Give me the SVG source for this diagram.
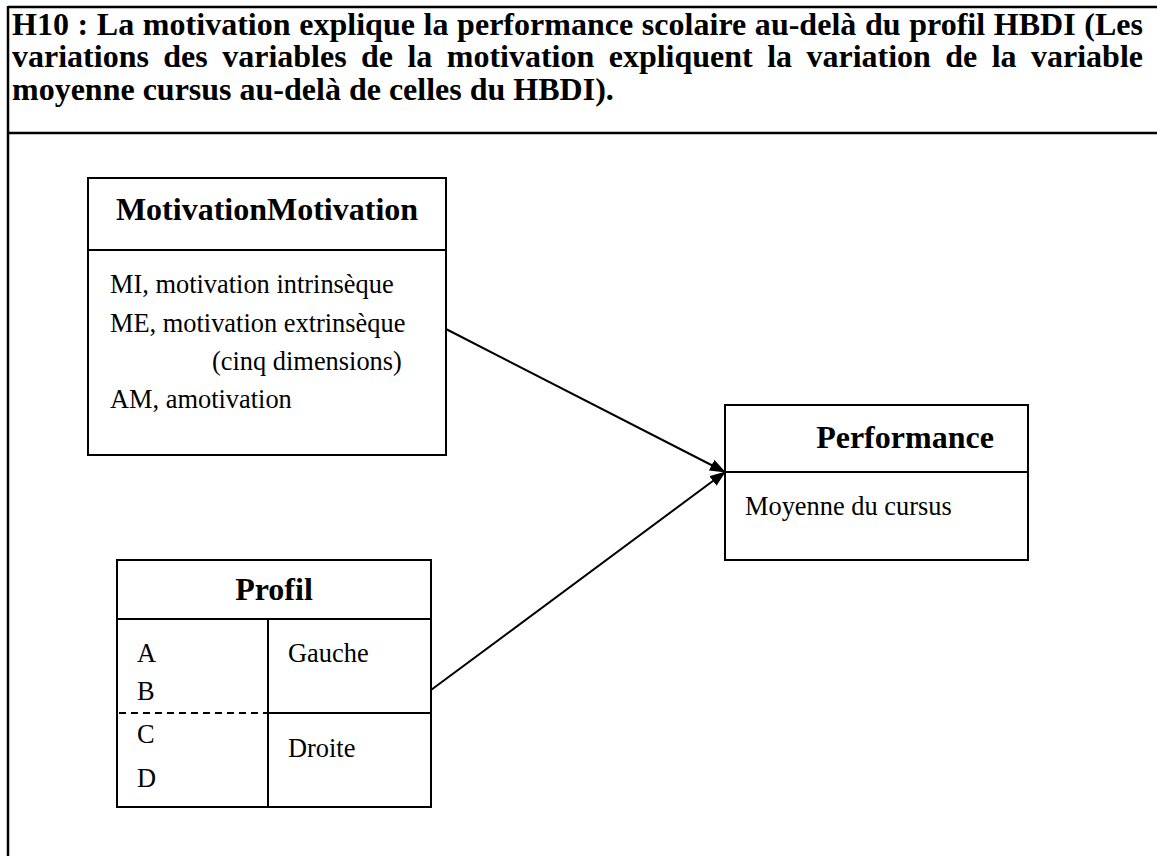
<svg xmlns="http://www.w3.org/2000/svg" width="1157" height="856" viewBox="0 0 1157 856">
<style>
.frame{stroke:#000;stroke-width:2.5;fill:none}
.box{stroke:#000;stroke-width:2;fill:#fff}
.ln{stroke:#000;stroke-width:2;fill:none}
.t{font-family:"Liberation Serif","Times New Roman",serif;fill:#000}
.h{font-weight:bold;font-size:32px}
.b{font-size:26.4px}
.title{font-family:"Liberation Serif","Times New Roman",serif;font-weight:bold;font-size:32px;fill:#000}
</style>
<defs>
<marker id="arr" markerWidth="16" markerHeight="12" refX="15" refY="6" orient="auto" markerUnits="userSpaceOnUse">
<path d="M0,0 L16,6 L0,12 Z" fill="#000"/>
</marker>
</defs>
<rect width="1157" height="856" fill="#fff"/>
<g id="frame">
<line class="frame" x1="8" y1="7" x2="1157" y2="7"/>
<line class="frame" x1="8" y1="133" x2="1157" y2="133"/>
<line class="frame" x1="8" y1="6" x2="8" y2="856"/>
<text class="title" x="12" y="35" word-spacing="0.6" textLength="1131" lengthAdjust="spacing">H10 : La motivation explique la performance scolaire au-delà du profil HBDI (Les</text>
<text class="title" x="12" y="67" word-spacing="6.4" textLength="1131" lengthAdjust="spacing">variations des variables de la motivation expliquent la variation de la variable</text>
<text class="title" x="12" y="100">moyenne cursus au-delà de celles du HBDI).</text>
</g>
<g id="connectors">
<line class="ln" x1="446" y1="329" x2="725" y2="472" marker-end="url(#arr)"/>
<line class="ln" x1="431" y1="690" x2="725" y2="472" marker-end="url(#arr)"/>
</g>
<g id="motivation">
<rect class="box" x="88" y="178" width="358" height="277"/>
<line class="ln" x1="88" y1="250" x2="446" y2="250"/>
<text class="t h" x="267" y="220" text-anchor="middle">MotivationMotivation</text>
<text class="t b" x="110" y="293">MI, motivation intrinsèque</text>
<text class="t b" x="110" y="332">ME, motivation extrinsèque</text>
<text class="t b" x="212" y="370">(cinq dimensions)</text>
<text class="t b" x="110" y="408">AM, amotivation</text>
</g>
<g id="performance">
<rect class="box" x="725" y="405" width="303" height="155"/>
<line class="ln" x1="725" y1="472" x2="1028" y2="472"/>
<text class="t h" x="905" y="448" text-anchor="middle">Performance</text>
<text class="t b" x="745" y="515">Moyenne du cursus</text>
</g>
<g id="profil">
<rect class="box" x="117" y="560" width="314" height="247"/>
<line class="ln" x1="117" y1="619" x2="431" y2="619"/>
<line class="ln" x1="268" y1="619" x2="268" y2="807"/>
<line class="ln" x1="268" y1="713" x2="431" y2="713"/>
<line class="ln" x1="119" y1="713" x2="268" y2="713" stroke-dasharray="7,5"/>
<text class="t h" x="274" y="600" text-anchor="middle">Profil</text>
<text class="t b" x="137" y="662">A</text>
<text class="t b" x="137" y="700">B</text>
<text class="t b" x="137" y="743">C</text>
<text class="t b" x="137" y="787">D</text>
<text class="t b" x="288" y="662">Gauche</text>
<text class="t b" x="288" y="757">Droite</text>
</g>
</svg>
